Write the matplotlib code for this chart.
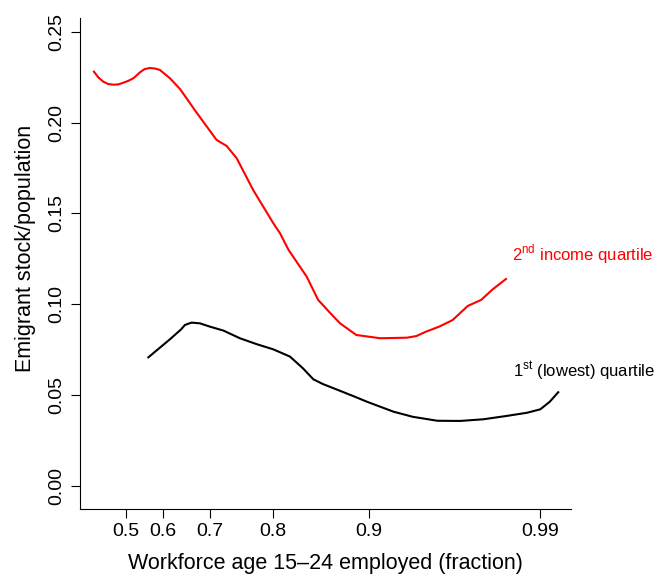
import numpy as np
import matplotlib
matplotlib.use('Agg')
import matplotlib.pyplot as plt

plt.rcParams['font.family'] = ['Liberation Sans', 'DejaVu Sans']
plt.rcParams['mathtext.fontset'] = 'custom'
plt.rcParams['mathtext.rm'] = 'Liberation Sans'

# 2nd income quartile (red)
x_q2 = [0.414, 0.426, 0.439, 0.452, 0.466, 0.480, 0.493, 0.507, 0.520, 0.530,
        0.538, 0.550, 0.564, 0.578, 0.591, 0.614, 0.636,
        0.671, 0.710, 0.726, 0.742, 0.768, 0.800, 0.807, 0.816, 0.835, 0.847,
        0.860, 0.870, 0.887, 0.906, 0.920, 0.925, 0.930, 0.937, 0.944, 0.952, 0.959,
        0.965, 0.972]
y_q2 = [0.2280, 0.2248, 0.2225, 0.2212, 0.2208, 0.2210, 0.2219, 0.2230, 0.2244, 0.2262,
        0.2277, 0.2294, 0.2300, 0.2297, 0.2289, 0.2244, 0.2183,
        0.2054, 0.1904, 0.1871, 0.1803, 0.1629, 0.1446, 0.1391, 0.1299, 0.1152, 0.1024,
        0.0950, 0.0895, 0.0831, 0.0813, 0.0816, 0.0825, 0.0849, 0.0877, 0.0913, 0.0991, 0.1024,
        0.1082, 0.1139]

# 1st (lowest) quartile (black)
x_q1 = [0.560, 0.614, 0.638, 0.646, 0.660, 0.678, 0.699, 0.721, 0.747, 0.774, 0.800,
        0.8175, 0.831, 0.842, 0.852, 0.866, 0.887, 0.898, 0.913, 0.923, 0.936,
        0.948, 0.960, 0.972, 0.983, 0.990, 0.995, 0.9994]
y_q1 = [0.0708, 0.0807, 0.0862, 0.0886, 0.0899, 0.0895, 0.0877, 0.0855, 0.0813, 0.0780, 0.0752,
        0.0712, 0.0648, 0.0587, 0.0561, 0.0532, 0.0488, 0.0464, 0.0409, 0.0381, 0.0359,
        0.0358, 0.0367, 0.0385, 0.0403, 0.0422, 0.0464, 0.0516]

xtick_vals = [0.5, 0.6, 0.7, 0.8, 0.9, 0.99]
xtick_labels = ['0.5', '0.6', '0.7', '0.8', '0.9', '0.99']
ytick_vals = [0.0, 0.05, 0.10, 0.15, 0.20, 0.25]

scale_vals = np.array([0.3, 0.5, 0.6, 0.7, 0.8, 0.9, 0.99, 1.1])
scale_pos = np.array([51.4, 126, 163.3, 210.3, 273.3, 368.7, 540.3, 750])

def fwd(x):
    return np.interp(x, scale_vals, scale_pos)

def inv(p):
    return np.interp(p, scale_pos, scale_vals)

fig = plt.figure(figsize=(6.57, 5.81), dpi=100)
ax = fig.add_axes([0.1222, 0.1244, 0.7469, 0.8446])
ax.set_xscale('function', functions=(fwd, inv))

ax.plot(x_q2, y_q2, color='#ff0000', lw=1.5, solid_joinstyle='round')
ax.plot(x_q1, y_q1, color='black', lw=1.5, solid_joinstyle='round')

ax.text(0.975, 0.124, r'2$^{\mathrm{nd}}$ income quartile', color='#ff0000',
        fontsize=12, ha='left', va='baseline')
ax.text(0.9755, 0.0596, r'1$^{\mathrm{st}}$ (lowest) quartile', color='black',
        fontsize=12, ha='left', va='baseline')

ax.set_xlim(0.3775, 1.0061)
ax.set_ylim(-0.0125, 0.2575)
ax.set_xticks(xtick_vals)
ax.set_xticklabels(xtick_labels)
ax.set_yticks(ytick_vals)
ax.set_yticklabels(['%.2f' % v for v in ytick_vals], rotation=90, va='center')
ax.minorticks_off()
ax.tick_params(axis='both', length=6.5, width=0.8, labelsize=14, pad=4)

for s in ['top', 'right']:
    ax.spines[s].set_visible(False)
for s in ['left', 'bottom']:
    ax.spines[s].set_linewidth(0.8)

ax.set_xlabel('Workforce age 15\u201324 employed (fraction)', fontsize=15.5)
ax.set_ylabel('Emigrant stock/population', fontsize=15.5)
ax.xaxis.set_label_coords(0.5, -0.090)
ax.yaxis.set_label_coords(-0.091, 0.53)

fig.savefig('out.png', dpi=100)
